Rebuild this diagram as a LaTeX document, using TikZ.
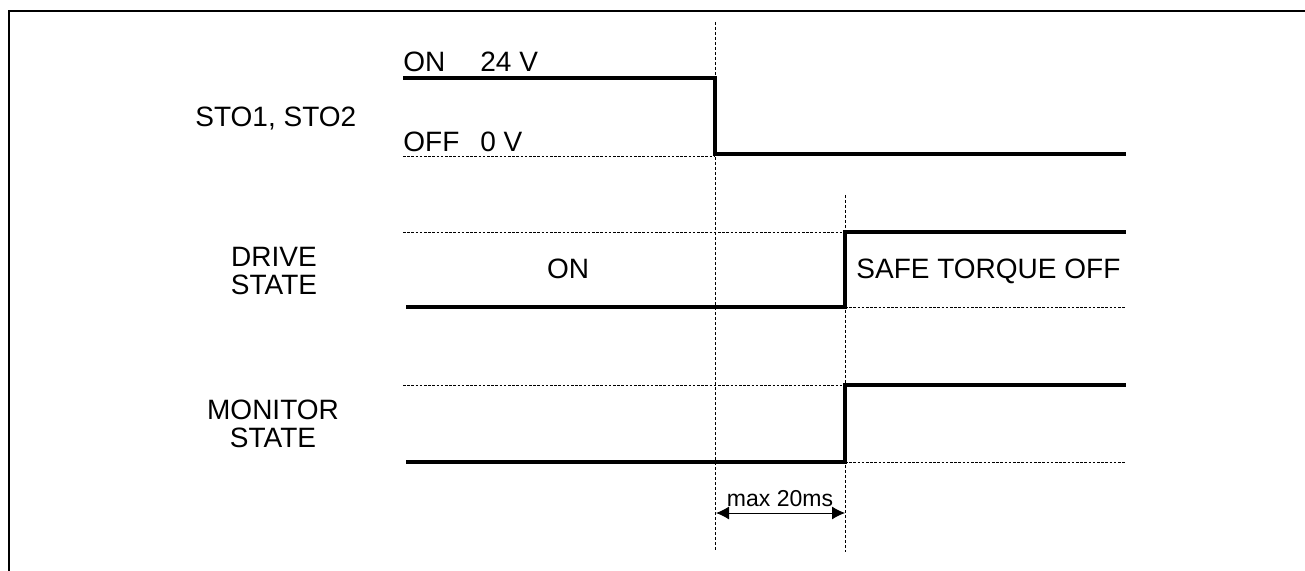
\documentclass[tikz,border=0pt]{standalone}
\usepackage{fontspec}
\setmainfont{Liberation Sans}
\usetikzlibrary{arrows.meta}
\begin{document}
\begin{tikzpicture}[x=0.5pt,y=-0.5pt,
  sig/.style={line width=2pt, line join=miter},
  guide/.style={line width=0.45pt, dash pattern=on 1.3pt off 0.8pt},
  frameline/.style={line width=1.1pt},
  dim/.style={line width=0.5pt, {Latex[length=6.5pt,width=6.5pt]}-{Latex[length=6.5pt,width=6.5pt]}},
  lbl/.style={inner sep=0pt, font=\fontsize{14}{14}\selectfont},
  twoline/.style={inner sep=0pt, align=center, font=\fontsize{14}{14}\selectfont},
  small/.style={inner sep=0pt, font=\fontsize{11.5}{12}\selectfont}]
\useasboundingbox (0,0) rectangle (1305,571);
% frame
\coordinate (fbl) at (9,571); \coordinate (ftl) at (9,11); \coordinate (ftr) at (1305,11);
\draw[frameline] (fbl) -- (ftl) -- (ftr);
% time markers
\coordinate (t1) at (715,22); \coordinate (b1) at (715,552);
\coordinate (t2) at (845,195); \coordinate (b2) at (845,552);
\draw[guide, dash pattern=on 1.5pt off 1pt] (t1) -- (b1);
\draw[guide, dash pattern=on 1.5pt off 1pt] (t2) -- (b2);
% STO signal
\coordinate (s0) at (403,78); \coordinate (s1) at (715,78);
\coordinate (s2) at (715,154); \coordinate (s3) at (1126,154);
\coordinate (sd0) at (403,156); \coordinate (sd1) at (715,156);
\draw[guide] (sd0) -- (sd1);
\draw[sig] (s0) -- (s1) -- (s2) -- (s3);
% DRIVE signal
\coordinate (d0) at (406,307); \coordinate (d1) at (845,307);
\coordinate (d2) at (845,232); \coordinate (d3) at (1126,232);
\coordinate (dh0) at (403,232); \coordinate (dl1) at (1126,307);
\draw[guide] (dh0) -- (d2);
\draw[guide] (d1) -- (dl1);
\draw[sig] (d0) -- (d1) -- (d2) -- (d3);
% MONITOR signal
\coordinate (m0) at (406,462); \coordinate (m1) at (845,462);
\coordinate (m2) at (845,385); \coordinate (m3) at (1126,385);
\coordinate (mh0) at (403,385); \coordinate (ml1) at (1126,462);
\draw[guide] (mh0) -- (m2);
\draw[guide] (m1) -- (ml1);
\draw[sig] (m0) -- (m1) -- (m2) -- (m3);
% dimension
\coordinate (a1) at (716,513); \coordinate (a2) at (845,513);
\draw[dim] (a1) -- (a2);
\node[small, anchor=base] (maxlbl) at (780,506) {max 20ms};
% labels
\node[lbl, anchor=base west] (sto) at (195,127) {STO1, STO2};
\node[lbl, anchor=base west] (on24) at (403,72) {ON\hspace{1.25em}24 V};
\node[lbl, anchor=base west] (off0) at (403,152) {OFF\hspace{0.75em}0 V};
\node[twoline] (drive) at (274,271) {DRIVE\\STATE};
\node[lbl, anchor=base] (onst) at (568,279) {ON};
\node[lbl, anchor=base west] (sto2) at (856,279) {SAFE TORQUE OFF};
\node[twoline] (mon) at (273,424) {MONITOR\\STATE};
\end{tikzpicture}
\end{document}
